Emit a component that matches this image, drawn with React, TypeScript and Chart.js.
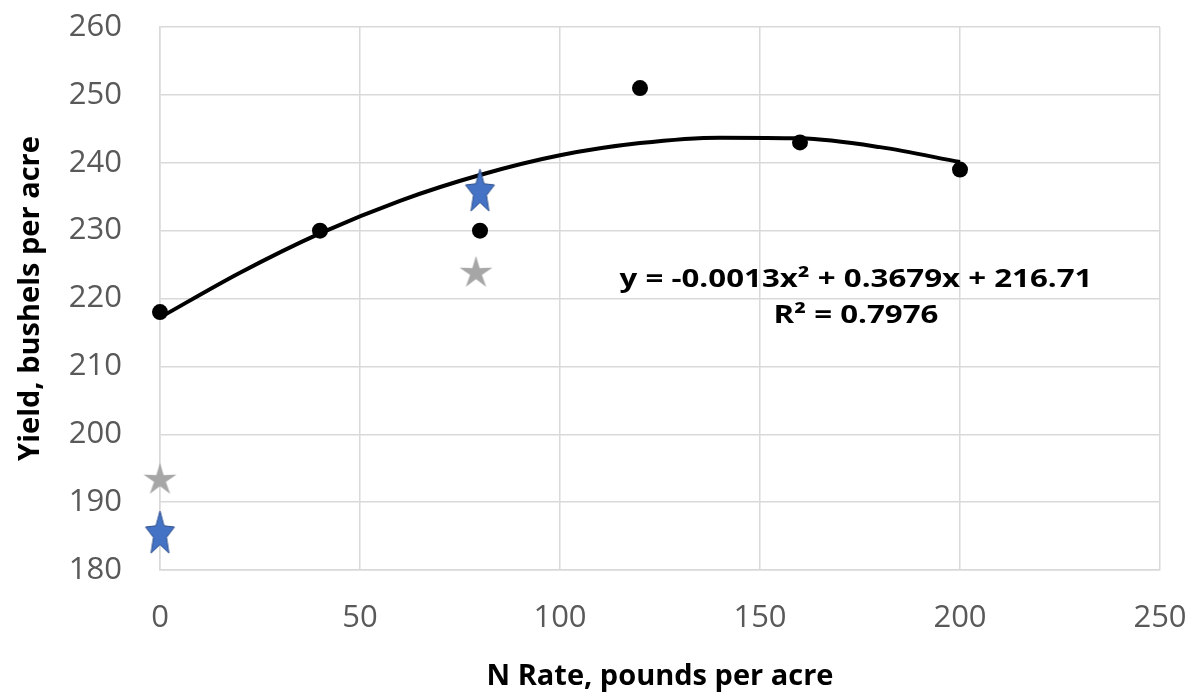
import React, { useEffect, useRef } from "react";
import { Chart, registerables } from "chart.js";

Chart.register(...registerables);

// ---- data ----
const nRate: number[] = [0, 40, 80, 120, 160, 200];
const yieldObs: number[] = [218, 230, 230, 251, 243, 239];

const blueStarX: number[] = [0, 80];
const blueStarY: number[] = [185.6, 236];

const grayStarX: number[] = [0, 79];
const grayStarY: number[] = [193.5, 224];

// trend line
const trendX: number[] = [0, 20, 40, 60, 80, 100, 120, 140, 160, 180, 200];
const trendY: number[] = [217.2, 223.8, 229.6, 234.4, 238.2, 241.1, 242.9, 243.7, 243.6, 242.3, 240.1];

const xTicks: number[] = [0, 50, 100, 150, 200, 250];
const yTicks: number[] = [180, 190, 200, 210, 220, 230, 240, 250, 260];

const eqLine1 = "y = -0.0013x\u00B2 + 0.3679x + 216.71";
const eqLine2 = "R\u00B2 = 0.7976";
const xTitle = "N Rate, pounds per acre";
const yTitle = "Yield, bushels per acre";

const FONT = "'Open Sans', 'Liberation Sans', sans-serif";

function makeStar(w: number, h: number, innerRatio: number, fill: string, stroke: string, lw: number): HTMLCanvasElement {
  const pad = lw + 1;
  const c = document.createElement("canvas");
  c.width = Math.ceil(w + pad * 2);
  c.height = Math.ceil(h + pad * 2);
  const ctx = c.getContext("2d")!;
  const sx = w / (2 * Math.cos(Math.PI / 10));
  const sy = h / (1 + Math.sin(Math.PI * 0.3));
  const cx = c.width / 2;
  const yMid = (-1 + Math.sin(Math.PI * 0.3)) / 2;
  const cy = c.height / 2 - yMid * sy;
  ctx.beginPath();
  for (let k = 0; k < 10; k++) {
    const a = -Math.PI / 2 + (k * Math.PI) / 5;
    const r = k % 2 === 0 ? 1 : innerRatio;
    const px = cx + Math.cos(a) * r * sx;
    const py = cy + Math.sin(a) * r * sy;
    if (k === 0) ctx.moveTo(px, py);
    else ctx.lineTo(px, py);
  }
  ctx.closePath();
  ctx.fillStyle = fill;
  ctx.fill();
  if (lw > 0) {
    ctx.strokeStyle = stroke;
    ctx.lineWidth = lw;
    ctx.lineJoin = "miter";
    ctx.stroke();
  }
  return c;
}

const annotationPlugin = {
  id: "eqLabel",
  afterDatasetsDraw(chart: any) {
    const { ctx, scales } = chart;
    const x = scales.x.getPixelForValue(174);
    const y1 = scales.y.getPixelForValue(221.7);
    const y2 = scales.y.getPixelForValue(216.4);
    const sx = 1.25;
    ctx.save();
    ctx.fillStyle = "#000000";
    ctx.font = `bold 25px ${FONT}`;
    ctx.textAlign = "center";
    ctx.textBaseline = "alphabetic";
    ctx.translate(x, 0);
    ctx.scale(sx, 1);
    ctx.fillText(eqLine1, 0, y1);
    ctx.fillText(eqLine2, 0, y2);
    ctx.restore();
  },
};

export default function App() {
  const ref = useRef<HTMLCanvasElement | null>(null);

  useEffect(() => {
    if (!ref.current) return;
    const blueStar = makeStar(29, 42, 0.45, "#4472C4", "#2F528F", 1);
    const grayStar = makeStar(33, 31, 0.36, "#A6A6A6", "#A6A6A6", 0);

    const chart = new Chart(ref.current, {
      type: "scatter",
      data: {
        datasets: [
          {
            label: "Trend",
            data: trendX.map((x, i) => ({ x, y: trendY[i] })),
            showLine: true,
            borderColor: "#000000",
            borderWidth: 4,
            pointRadius: 0,
            tension: 0.4,
            cubicInterpolationMode: "monotone",
            clip: false,
            order: 3,
          } as any,
          {
            label: "Yield",
            data: nRate.map((x, i) => ({ x, y: yieldObs[i] })),
            backgroundColor: "#000000",
            borderColor: "#000000",
            pointRadius: 8,
            borderWidth: 0,
            clip: false,
            order: 2,
          } as any,
          {
            label: "Gray",
            data: grayStarX.map((x, i) => ({ x, y: grayStarY[i] })),
            pointStyle: grayStar as any,
            clip: false,
            order: 1,
          } as any,
          {
            label: "Blue",
            data: blueStarX.map((x, i) => ({ x, y: blueStarY[i] })),
            pointStyle: blueStar as any,
            clip: false,
            order: 0,
          } as any,
        ],
      },
      options: {
        animation: false,
        responsive: false,
        maintainAspectRatio: false,
        layout: { padding: 0, autoPadding: false },
        plugins: {
          legend: { display: false },
          tooltip: { enabled: false },
        },
        scales: {
          x: {
            type: "linear",
            min: 0,
            max: 250,
            afterBuildTicks: (s: any) => {
              s.ticks = xTicks.map((v) => ({ value: v }));
            },
            afterFit: (s: any) => {
              s.height = 127;
              s.paddingLeft = 0;
              s.paddingRight = 37;
            },
            grid: { color: "#D9D9D9", lineWidth: 1.5, drawTicks: false },
            border: { color: "#D9D9D9", width: 1.5 },
            ticks: {
              color: "#595959",
              font: { family: FONT, size: 31 },
              padding: 30,
              maxRotation: 0,
            },
            title: {
              display: true,
              text: xTitle,
              color: "#000000",
              font: { family: FONT, size: 29, weight: "bold" },
              padding: { top: 3, bottom: 3 },
            },
          },
          y: {
            type: "linear",
            min: 180,
            max: 260,
            afterBuildTicks: (s: any) => {
              s.ticks = yTicks.map((v) => ({ value: v }));
            },
            afterFit: (s: any) => {
              s.width = 160;
              s.paddingTop = 27;
              s.paddingBottom = 0;
            },
            grid: { color: "#D9D9D9", lineWidth: 1.5, drawTicks: false },
            border: { color: "#D9D9D9", width: 1.5 },
            ticks: {
              color: "#595959",
              font: { family: FONT, size: 31 },
              padding: 38,
            },
            title: {
              display: true,
              text: yTitle,
              color: "#000000",
              font: { family: FONT, size: 29, weight: "bold" },
              padding: { top: 13, bottom: 13 },
            },
          },
        },
      },
      plugins: [annotationPlugin],
    });
    return () => chart.destroy();
  }, []);

  return (
    <div style={{ position: "absolute", left: 0, top: 0, width: 1197, height: 697, background: "#fff" }}>
      <canvas ref={ref} width={1197} height={697} style={{ display: "block" }} />
    </div>
  );
}
